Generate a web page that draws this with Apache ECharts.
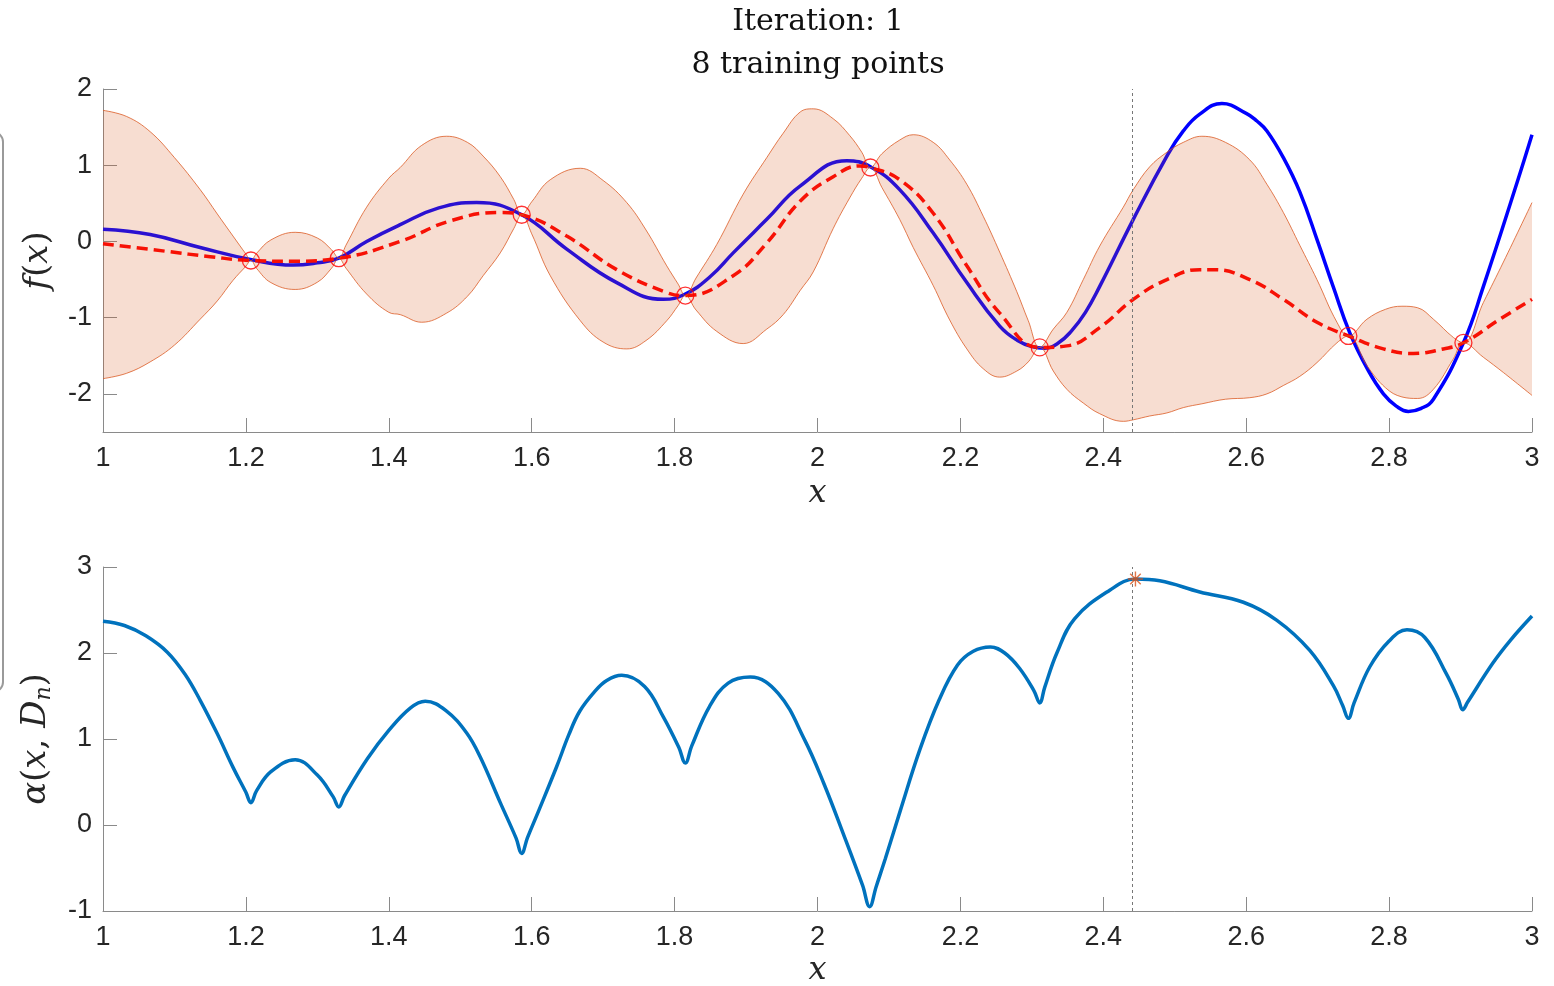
<!DOCTYPE html>
<html>
<head>
<meta charset="utf-8">
<title>Bayesian optimisation - iteration 1</title>
<script src="https://cdn.jsdelivr.net/npm/echarts@6.0.0/dist/echarts.min.js"></script>
<style>
html,body{margin:0;padding:0;background:#fff;}
#chart{width:1554px;height:986px;}
</style>
</head>
<body>
<div id="chart"></div>
<script>
// true objective f(x)
var trueX = [1.000,1.066,1.136,1.208,1.266,1.300,1.330,1.369,1.416,1.470,1.523,1.586,1.649,1.719,1.784,1.815,1.850,1.882,1.929,1.976,2.041,2.074,2.115,2.162,2.209,2.255,2.280,2.300,2.318,2.336,2.355,2.375,2.395,2.442,2.489,2.512,2.535,2.566,2.600,2.615,2.629,2.652,2.675,2.700,2.722,2.745,2.770,2.792,2.810,2.827,2.845,2.862,2.904,2.932,2.979,3.000];
var trueY = [0.16,0.09,-0.08,-0.24,-0.31,-0.28,-0.22,0.00,0.22,0.44,0.51,0.35,-0.10,-0.54,-0.76,-0.69,-0.46,-0.15,0.29,0.73,1.06,0.98,0.68,0.11,-0.54,-1.11,-1.30,-1.38,-1.40,-1.34,-1.18,-0.93,-0.59,0.29,1.12,1.45,1.67,1.81,1.68,1.58,1.45,1.10,0.65,0.00,-0.60,-1.20,-1.68,-2.00,-2.16,-2.23,-2.19,-2.07,-1.33,-0.59,0.77,1.40];

// GP posterior mean
var meanX = [1.000,1.089,1.150,1.208,1.266,1.330,1.416,1.486,1.556,1.586,1.649,1.719,1.789,1.815,1.882,1.929,1.976,2.022,2.059,2.074,2.115,2.162,2.209,2.255,2.311,2.349,2.395,2.442,2.489,2.535,2.554,2.605,2.652,2.699,2.743,2.792,2.834,2.876,2.904,2.955,3.000];
var meanY = [-0.03,-0.13,-0.20,-0.25,-0.26,-0.22,0.00,0.27,0.38,0.35,0.07,-0.37,-0.67,-0.71,-0.45,-0.02,0.53,0.85,0.99,0.97,0.81,0.37,-0.32,-0.94,-1.39,-1.37,-1.13,-0.76,-0.50,-0.37,-0.37,-0.50,-0.76,-1.06,-1.24,-1.41,-1.47,-1.41,-1.33,-1.02,-0.76];

// confidence band edges
var bandX = [1.000,1.033,1.066,1.100,1.136,1.160,1.182,1.200,1.207,1.215,1.235,1.269,1.300,1.320,1.330,1.340,1.369,1.400,1.416,1.446,1.481,1.510,1.532,1.556,1.575,1.586,1.600,1.626,1.668,1.700,1.733,1.760,1.789,1.805,1.815,1.830,1.859,1.896,1.929,1.952,1.976,1.994,2.022,2.045,2.062,2.074,2.090,2.115,2.134,2.162,2.185,2.209,2.232,2.255,2.279,2.295,2.311,2.330,2.349,2.372,2.395,2.428,2.442,2.465,2.489,2.512,2.538,2.571,2.605,2.629,2.652,2.675,2.699,2.727,2.743,2.769,2.795,2.818,2.840,2.862,2.890,2.904,2.932,2.960,3.000];
var bandUp = [1.72,1.64,1.44,1.10,0.68,0.36,0.07,-0.165,-0.25,-0.155,0.02,0.12,0.045,-0.11,-0.22,-0.05,0.45,0.83,0.97,1.26,1.38,1.30,1.12,0.85,0.55,0.35,0.52,0.81,0.96,0.80,0.51,0.15,-0.32,-0.56,-0.71,-0.48,-0.04,0.62,1.10,1.42,1.70,1.74,1.61,1.39,1.17,0.97,1.15,1.33,1.40,1.30,1.07,0.75,0.33,-0.14,-0.66,-1.04,-1.39,-1.15,-0.93,-0.50,-0.06,0.45,0.68,0.98,1.17,1.30,1.38,1.30,1.07,0.75,0.38,-0.05,-0.50,-1.06,-1.24,-1.02,-0.89,-0.85,-0.87,-1.02,-1.26,-1.33,-0.80,-0.27,0.51];
var bandLo = [-1.80,-1.73,-1.58,-1.36,-1.02,-0.78,-0.51,-0.325,-0.25,-0.355,-0.54,-0.63,-0.535,-0.35,-0.22,-0.35,-0.69,-0.93,-0.96,-1.06,-0.94,-0.72,-0.45,-0.15,0.17,0.35,0.10,-0.45,-1.04,-1.32,-1.41,-1.30,-1.04,-0.84,-0.71,-0.90,-1.18,-1.34,-1.15,-0.96,-0.64,-0.40,0.17,0.57,0.83,0.97,0.71,0.29,-0.08,-0.58,-1.03,-1.41,-1.67,-1.78,-1.70,-1.58,-1.39,-1.70,-1.94,-2.12,-2.26,-2.36,-2.34,-2.29,-2.25,-2.18,-2.13,-2.07,-2.05,-2.00,-1.89,-1.77,-1.59,-1.33,-1.24,-1.63,-1.92,-2.04,-2.06,-1.94,-1.54,-1.33,-1.52,-1.72,-2.02];

// training points
var trainX = [1.207,1.330,1.586,1.815,2.074,2.311,2.743,2.904];
var trainY = [-0.25,-0.22,0.35,-0.71,0.97,-1.39,-1.24,-1.33];

// acquisition function
var acqX = [1.000,1.030,1.060,1.090,1.115,1.136,1.160,1.182,1.200,1.207,1.215,1.235,1.269,1.300,1.322,1.330,1.338,1.370,1.400,1.430,1.451,1.480,1.509,1.528,1.556,1.578,1.586,1.594,1.610,1.635,1.652,1.667,1.688,1.705,1.726,1.758,1.784,1.806,1.815,1.824,1.849,1.875,1.906,1.945,1.982,2.009,2.036,2.063,2.073,2.082,2.095,2.116,2.143,2.170,2.196,2.218,2.242,2.262,2.283,2.303,2.311,2.318,2.335,2.360,2.409,2.445,2.479,2.535,2.596,2.643,2.689,2.722,2.735,2.743,2.751,2.773,2.800,2.825,2.850,2.880,2.897,2.903,2.910,2.945,2.970,3.000];
var acqY = [2.37,2.32,2.20,2.01,1.75,1.45,1.06,0.67,0.38,0.26,0.40,0.62,0.76,0.58,0.33,0.21,0.34,0.77,1.10,1.36,1.44,1.33,1.07,0.79,0.26,-0.15,-0.33,-0.15,0.17,0.68,1.05,1.32,1.55,1.68,1.74,1.61,1.26,0.90,0.72,0.92,1.38,1.65,1.72,1.53,0.99,0.48,-0.10,-0.70,-0.95,-0.72,-0.39,0.17,0.87,1.45,1.86,2.02,2.07,2.00,1.82,1.56,1.42,1.60,2.00,2.40,2.73,2.86,2.84,2.71,2.59,2.38,2.03,1.62,1.39,1.24,1.42,1.84,2.14,2.27,2.18,1.76,1.46,1.34,1.43,1.88,2.15,2.43];

// next query point
var nextX = 2.445;
var nextAcq = 2.86;

var yTopTicks = [-2, -1, 0, 1, 2];

function zip(xs, ys) {
	var out = [];
	for (var i = 0; i < xs.length; i++) out.push([xs[i], ys[i]]);
	return out;
}
// band rows are [value, x] so that the stack runs over the value column
var bandLoRows = [], bandWidthRows = [];
for (var i = 0; i < bandX.length; i++) {
	bandLoRows.push([bandLo[i], bandX[i]]);
	bandWidthRows.push([bandUp[i] - bandLo[i], bandX[i]]);
}

var axisGray = '#8a8a8a';
var labelStyle = { fontSize: 27, color: '#262626', fontFamily: 'Liberation Sans, Arial, sans-serif' };
var nameFont = 'DejaVu Serif, serif';
var edge = 'rgba(217,83,25,0.75)';

function xAxisCfg(idx, gap) {
	return {
		type: 'value', gridIndex: idx, min: 1, max: 3, interval: 0.2,
		axisLine: { onZero: false, lineStyle: { color: axisGray, width: 1 } },
		axisTick: { inside: true, length: 14, lineStyle: { color: axisGray } },
		axisLabel: Object.assign({ margin: 13 }, labelStyle),
		splitLine: { show: false },
		name: 'x', nameLocation: 'middle', nameGap: gap,
		nameTextStyle: { fontFamily: nameFont, fontStyle: 'italic', fontSize: 32, color: '#262626' }
	};
}

var chart = echarts.init(document.getElementById('chart'));
var option = {
	backgroundColor: '#fff',
	animation: false,
	title: {
		text: 'Iteration: 1\n8 training points',
		left: 818, top: 1, textAlign: 'center', padding: 0,
		textStyle: { fontFamily: 'DejaVu Serif, serif', fontWeight: 'normal', fontSize: 30, lineHeight: 43, color: '#111' }
	},
	graphic: [{
		type: 'rect', shape: { x: -30, y: 132, width: 33, height: 560, r: 10 },
		style: { fill: 'none', stroke: '#9a9a9a', lineWidth: 2 }
	}],
	grid: [
		{ left: 103, top: 89, width: 1429, height: 343, outerBoundsMode: 'none' },
		{ left: 103, top: 567, width: 1429, height: 344, outerBoundsMode: 'none' }
	],
	xAxis: [xAxisCfg(0, 46), xAxisCfg(1, 44)],
	yAxis: [{
		type: 'value', gridIndex: 0, min: -2.5, max: 2,
		axisLine: { show: true, onZero: false, lineStyle: { color: axisGray, width: 1 } },
		axisTick: { show: true, inside: true, length: 14, lineStyle: { color: axisGray }, customValues: yTopTicks },
		axisLabel: Object.assign({ margin: 11, customValues: yTopTicks }, labelStyle),
		splitLine: { show: false },
		name: '{i|f}{r|(}{i|x}{r|)}', nameLocation: 'middle', nameGap: 48,
		nameTextStyle: {
			rich: {
				i: { fontFamily: nameFont, fontStyle: 'italic', fontSize: 34, color: '#262626' },
				r: { fontFamily: nameFont, fontSize: 34, color: '#262626' }
			}
		}
	}, {
		type: 'value', gridIndex: 1, min: -1, max: 3, interval: 1,
		axisLine: { show: true, onZero: false, lineStyle: { color: axisGray, width: 1 } },
		axisTick: { show: true, inside: true, length: 14, lineStyle: { color: axisGray } },
		axisLabel: Object.assign({ margin: 11 }, labelStyle),
		splitLine: { show: false },
		name: '{i|α}{r|(}{i|x}{r|, }{i|D}{s|n}{r|)}', nameLocation: 'middle', nameGap: 48,
		nameTextStyle: {
			rich: {
				i: { fontFamily: nameFont, fontStyle: 'italic', fontSize: 34, color: '#262626' },
				r: { fontFamily: nameFont, fontSize: 34, color: '#262626' },
				s: { fontFamily: nameFont, fontStyle: 'italic', fontSize: 22, color: '#262626', verticalAlign: 'bottom', padding: [16, 0, 0, 0] }
			}
		}
	}],
	series: [
		{
			name: 'f', type: 'line', xAxisIndex: 0, yAxisIndex: 0, z: 2,
			data: zip(trueX, trueY), showSymbol: false, symbol: 'none', smooth: 0.45,
			lineStyle: { color: '#0000ff', width: 3.5 },
			markLine: {
				silent: true, symbol: ['none', 'none'], label: { show: false },
				lineStyle: { color: '#777', type: [3, 3], width: 1 },
				data: [{ xAxis: nextX }]
			}
		},
		{
			name: 'mean', type: 'line', xAxisIndex: 0, yAxisIndex: 0, z: 3,
			data: zip(meanX, meanY), showSymbol: false, symbol: 'none', smooth: 0.45,
			lineStyle: { color: '#ff0000', width: 3.5, type: [11, 6] }
		},
		{
			name: 'lower', type: 'line', xAxisIndex: 0, yAxisIndex: 0, z: 4,
			stack: 'band', stackStrategy: 'all', encode: { x: 1, y: 0 },
			data: bandLoRows, symbol: 'none', smooth: 0.4,
			lineStyle: { color: edge, width: 1 }
		},
		{
			name: 'upper', type: 'line', xAxisIndex: 0, yAxisIndex: 0, z: 4,
			stack: 'band', stackStrategy: 'all', encode: { x: 1, y: 0 },
			data: bandWidthRows, symbol: 'none', smooth: 0.4,
			lineStyle: { color: edge, width: 1 },
			areaStyle: { color: 'rgba(217,83,25,0.2)', opacity: 1 }
		},
		{
			name: 'data', type: 'scatter', xAxisIndex: 0, yAxisIndex: 0, z: 5,
			data: zip(trainX, trainY), symbol: 'circle', symbolSize: 17,
			itemStyle: { color: 'rgba(0,0,0,0)', borderColor: '#ff0000', borderWidth: 1.3 }
		},
		{
			name: 'acq', type: 'line', xAxisIndex: 1, yAxisIndex: 1, z: 3,
			data: zip(acqX, acqY), symbol: 'none', smooth: 0.4,
			lineStyle: { color: '#0072bd', width: 3.5 },
			markLine: {
				silent: true, symbol: ['none', 'none'], label: { show: false },
				lineStyle: { color: '#777', type: [3, 3], width: 1 },
				data: [{ xAxis: nextX }]
			}
		},
		{
			name: 'next', type: 'scatter', xAxisIndex: 1, yAxisIndex: 1, z: 5,
			data: [[nextX, nextAcq]],
			symbol: 'path://M10,0 L10,20 M0,10 L20,10 M3,3 L17,17 M3,17 L17,3', symbolSize: 15,
			itemStyle: { color: 'rgba(0,0,0,0)', borderColor: '#d95319', borderWidth: 1.4 }
		}
	]
};
chart.setOption(option);
</script>
</body>
</html>
